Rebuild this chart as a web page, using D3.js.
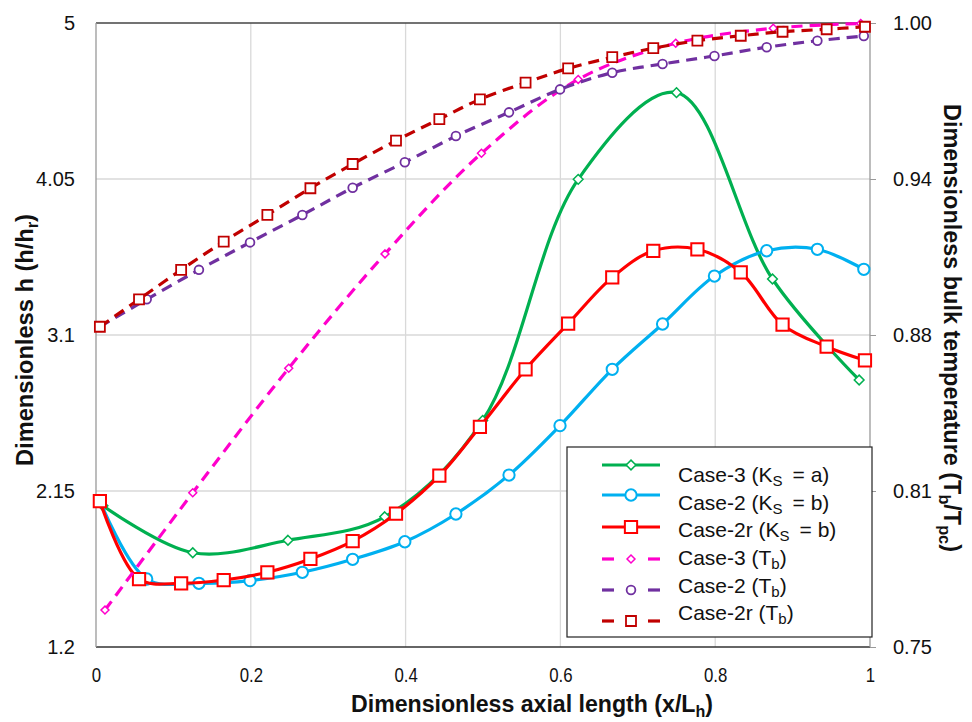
<!DOCTYPE html>
<html><head><meta charset="utf-8">
<script src="https://cdn.jsdelivr.net/npm/d3@7/dist/d3.min.js"></script>
<style>
body{margin:0;background:#fff;}
svg text{font-family:"Liberation Sans",Arial,sans-serif;fill:#111;}
</style></head>
<body><svg id="c" width="972" height="722"></svg>
<script>
// ---------- data ----------
const xTicks = [0, 0.2, 0.4, 0.6, 0.8, 1];
const xTickLabels = ["0", "0.2", "0.4", "0.6", "0.8", "1"];
const hTicks = [1.2, 2.15, 3.1, 4.05, 5];
const hTickLabels = ["1.2", "2.15", "3.1", "4.05", "5"];
const tTicks = [0.75, 0.8125, 0.875, 0.9375, 1.0];
const tTickLabels = ["0.75", "0.81", "0.88", "0.94", "1.00"];

const case3X = [0.009, 0.125, 0.248, 0.373, 0.4996, 0.623, 0.750, 0.874, 0.986];
const case3H = [2.06, 1.774, 1.85, 1.993, 2.58, 4.048, 4.576, 3.441, 2.826];

const case2X = [0.005, 0.0655, 0.133, 0.199, 0.2666, 0.3316, 0.399, 0.465, 0.5336, 0.5995, 0.667, 0.732, 0.799, 0.8665, 0.932, 0.992];
const case2H = [2.09, 1.614, 1.588, 1.604, 1.655, 1.734, 1.841, 2.01, 2.247, 2.548, 2.891, 3.167, 3.459, 3.613, 3.622, 3.5];

const case2rX = [0.005, 0.0556, 0.110, 0.165, 0.2214, 0.277, 0.3316, 0.3876, 0.4436, 0.496, 0.555, 0.610, 0.667, 0.720, 0.777, 0.833, 0.887, 0.944, 0.9935];
const case2rH = [2.089, 1.614, 1.588, 1.608, 1.655, 1.736, 1.845, 2.012, 2.243, 2.541, 2.891, 3.169, 3.451, 3.613, 3.622, 3.482, 3.163, 3.029, 2.946];

const case3TX = [0.0116, 0.125, 0.249, 0.3734, 0.498, 0.623, 0.749, 0.875, 0.988];
const case3T = [0.7648, 0.8118, 0.8617, 0.9075, 0.9478, 0.9774, 0.9919, 0.9979, 0.9998];

const case2TX = case2X;
const case2T = [0.8783, 0.8893, 0.9011, 0.9121, 0.9231, 0.934, 0.9442, 0.9547, 0.9642, 0.9734, 0.9801, 0.9836, 0.9868, 0.9903, 0.9929, 0.9948];

const case2rTX = case2rX;
const case2rT = [0.8783, 0.8893, 0.9011, 0.9124, 0.9231, 0.9338, 0.9435, 0.9529, 0.9615, 0.9694, 0.9761, 0.9818, 0.9863, 0.9899, 0.9929, 0.9949, 0.9965, 0.9975, 0.9985];

const seriesNames = ["Case-3", "Case-2", "Case-2r", "Case-3", "Case-2", "Case-2r"];

// ---------- layout ----------
const L = 96, R = 870, T = 23, B = 647;
const svg = d3.select("#c");
const x = d3.scaleLinear().domain([0, 1]).range([L, R]);
const yH = d3.scaleLinear().domain([1.2, 5]).range([B, T]);
const yT = d3.scaleLinear().domain([0.75, 1.0]).range([B, T]);

function squeeze(sel, k) {
  sel.each(function () {
    const w = this.getComputedTextLength();
    d3.select(this).attr("textLength", w * k).attr("lengthAdjust", "spacingAndGlyphs");
  });
}

// grid
const grid = svg.append("g");
grid.selectAll("line.v").data(xTicks.slice(1, -1)).enter().append("line")
  .attr("x1", d => x(d)).attr("x2", d => x(d)).attr("y1", T).attr("y2", B)
  .attr("stroke", "#d9d9d9").attr("stroke-width", 1.3);
grid.selectAll("line.h").data(hTicks.slice(1, -1)).enter().append("line")
  .attr("x1", L).attr("x2", R).attr("y1", d => yH(d)).attr("y2", d => yH(d))
  .attr("stroke", "#d9d9d9").attr("stroke-width", 1.3);

// axes frame
svg.append("line").attr("x1", L).attr("x2", R).attr("y1", T).attr("y2", T).attr("stroke", "#444").attr("stroke-width", 1.3);
svg.append("line").attr("x1", L).attr("x2", R).attr("y1", B).attr("y2", B).attr("stroke", "#333").attr("stroke-width", 1.3);
svg.append("line").attr("x1", L).attr("x2", L).attr("y1", T).attr("y2", B).attr("stroke", "#999").attr("stroke-width", 1.3);
svg.append("line").attr("x1", R).attr("x2", R).attr("y1", T).attr("y2", B).attr("stroke", "#999").attr("stroke-width", 1.3);

// axes via d3
const gx = svg.append("g").attr("transform", `translate(0,${B})`)
  .call(d3.axisBottom(x).tickValues(xTicks).tickFormat((d, i) => xTickLabels[i]).tickSize(0).tickPadding(20));
gx.select(".domain").remove();
gx.selectAll("text").style("font-size", "21px").attr("fill", "#111");
squeeze(gx.selectAll("text"), 0.8);

const gl = svg.append("g").attr("transform", `translate(${L},0)`)
  .call(d3.axisLeft(yH).tickValues(hTicks).tickFormat((d, i) => hTickLabels[i]).tickSize(0).tickPadding(21));
gl.select(".domain").remove();
gl.selectAll("text").style("font-size", "20px").attr("fill", "#111");

const gr = svg.append("g").attr("transform", `translate(${R},0)`)
  .call(d3.axisRight(yT).tickValues(tTicks).tickFormat((d, i) => tTickLabels[i]).tickSize(6).tickPadding(17));
gr.select(".domain").remove();
gr.selectAll("line").attr("stroke", "#999");
gr.selectAll("text").style("font-size", "20px").attr("fill", "#111");

// axis titles
svg.append("text").attr("x", 532).attr("y", 712)
  .attr("text-anchor", "middle").style("font-size", "23px").style("font-weight", "bold")
  .attr("textLength", 362).attr("lengthAdjust", "spacingAndGlyphs")
  .html('Dimensionless axial length (x/L<tspan dy="5" font-size="16px">h</tspan><tspan dy="-5">)</tspan>');
svg.append("text").attr("transform", "translate(33,340) rotate(-90)")
  .attr("text-anchor", "middle").style("font-size", "23px").style("font-weight", "bold")
  .attr("textLength", 252).attr("lengthAdjust", "spacingAndGlyphs")
  .html('Dimensionless h (h/h<tspan dy="5" font-size="16px">r</tspan><tspan dy="-5">)</tspan>');
svg.append("text").attr("transform", "translate(944,328) rotate(90)")
  .attr("text-anchor", "middle").style("font-size", "23px").style("font-weight", "bold")
  .attr("textLength", 448).attr("lengthAdjust", "spacingAndGlyphs")
  .html('Dimensionless bulk temperature (T<tspan dy="5" font-size="16px">b</tspan><tspan dy="-5">/T</tspan><tspan dy="5" font-size="16px">pc</tspan><tspan dy="-5">)</tspan>');

// ---------- series ----------
const series = [
  {xs: case3X, ys: case3H, y: yH, color: "#00B050", dash: null, shape: d3.symbolDiamond2, size: 60, sw: 1.5},
  {xs: case2X, ys: case2H, y: yH, color: "#00B0F0", dash: null, shape: d3.symbolCircle, size: 100, sw: 2},
  {xs: case2rX, ys: case2rH, y: yH, color: "#FF0000", dash: null, shape: d3.symbolSquare, size: 150, sw: 2},
  {xs: case3TX, ys: case3T, y: yT, color: "#FF00CC", dash: "11,7", shape: d3.symbolDiamond2, size: 40, sw: 1.5},
  {xs: case2TX, ys: case2T, y: yT, color: "#7030A0", dash: "11,7", shape: d3.symbolCircle, size: 60, sw: 1.8},
  {xs: case2rTX, ys: case2rT, y: yT, color: "#C00000", dash: "11,7", shape: d3.symbolSquare, size: 100, sw: 1.8},
];
const line = (s) => d3.line().x(d => x(d[0])).y(d => s.y(d[1])).curve(d3.curveCatmullRom.alpha(0.5));
series.forEach(s => {
  const pts = s.xs.map((v, i) => [v, s.ys[i]]);
  const g = svg.append("g");
  g.append("path").datum(pts).attr("d", line(s)).attr("fill", "none")
    .attr("stroke", s.color).attr("stroke-width", 3.2).attr("stroke-dasharray", s.dash);
  g.selectAll("path.m").data(pts).enter().append("path")
    .attr("d", d3.symbol().type(s.shape).size(s.size))
    .attr("transform", d => `translate(${x(d[0])},${s.y(d[1])})`)
    .attr("fill", "#fff").attr("stroke", s.color).attr("stroke-width", s.sw);
});

// ---------- legend ----------
const lg = svg.append("g");
lg.append("rect").attr("x", 567).attr("y", 447).attr("width", 305).attr("height", 190)
  .attr("fill", "#fff").attr("stroke", "#222").attr("stroke-width", 1.2);
const symY = [465, 495, 527, 559, 590, 621];
const txtY = [482, 510, 537, 565, 593, 620];
const suffix = [
  '(K<tspan dy="4" font-size="15px">S</tspan><tspan dy="-4" dx="10">= a)</tspan>',
  '(K<tspan dy="4" font-size="15px">S</tspan><tspan dy="-4" dx="10">= b)</tspan>',
  '(K<tspan dy="4" font-size="15px">S</tspan><tspan dy="-4" dx="10">= b)</tspan>',
  '(T<tspan dy="4" font-size="15px">b</tspan><tspan dy="-4">)</tspan>',
  '(T<tspan dy="4" font-size="15px">b</tspan><tspan dy="-4">)</tspan>',
  '(T<tspan dy="4" font-size="15px">b</tspan><tspan dy="-4">)</tspan>'
];
series.forEach((s, i) => {
  if (s.dash) {
    [[602, 614], [648, 660]].forEach(([a, b]) =>
      lg.append("line").attr("x1", a).attr("x2", b).attr("y1", symY[i]).attr("y2", symY[i])
        .attr("stroke", s.color).attr("stroke-width", 3.2));
  } else {
    lg.append("line").attr("x1", 602).attr("x2", 660).attr("y1", symY[i]).attr("y2", symY[i])
      .attr("stroke", s.color).attr("stroke-width", 3.2);
  }
  lg.append("path").attr("d", d3.symbol().type(s.shape).size(s.size))
    .attr("transform", `translate(631,${symY[i]})`)
    .attr("fill", "#fff").attr("stroke", s.color).attr("stroke-width", s.sw);
  lg.append("text").attr("x", 678).attr("y", txtY[i]).style("font-size", "21px")
    .html(seriesNames[i] + ' ' + suffix[i]);
});
</script></body></html>
